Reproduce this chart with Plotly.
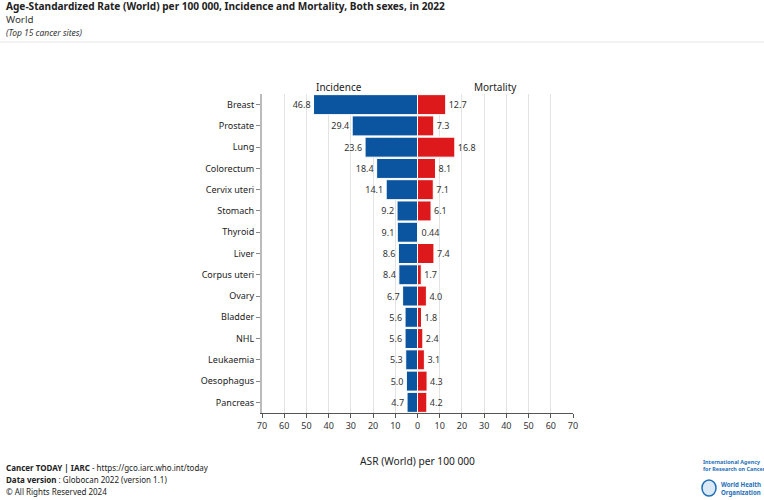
import plotly.graph_objects as go

sites = ["Breast", "Prostate", "Lung", "Colorectum", "Cervix uteri", "Stomach", "Thyroid",
         "Liver", "Corpus uteri", "Ovary", "Bladder", "NHL", "Leukaemia", "Oesophagus", "Pancreas"]
incidence = [46.8, 29.4, 23.6, 18.4, 14.1, 9.2, 9.1, 8.6, 8.4, 6.7, 5.6, 5.6, 5.3, 5.0, 4.7]
mortality = [12.7, 7.3, 16.8, 8.1, 7.1, 6.1, 0.44, 7.4, 1.7, 4.0, 1.8, 2.4, 3.1, 4.3, 4.2]
inc_labels = ["46.8", "29.4", "23.6", "18.4", "14.1", "9.2", "9.1", "8.6", "8.4", "6.7", "5.6", "5.6", "5.3", "5.0", "4.7"]
mort_labels = ["12.7", "7.3", "16.8", "8.1", "7.1", "6.1", "0.44", "7.4", "1.7", "4.0", "1.8", "2.4", "3.1", "4.3", "4.2"]
tick_vals = [-70, -60, -50, -40, -30, -20, -10, 0, 10, 20, 30, 40, 50, 60, 70]
tick_text = ["70", "60", "50", "40", "30", "20", "10", "0", "10", "20", "30", "40", "50", "60", "70"]

BLUE = "#0b54a0"
RED = "#de191b"
FONT = "Noto Sans"

fig = go.Figure()
fig.add_trace(go.Bar(
    y=sites, x=[-v for v in incidence], orientation="h",
    marker=dict(color=BLUE, line=dict(color="white", width=1)),
    text=inc_labels, textposition="outside", cliponaxis=False,
    textfont=dict(size=9, color="#333", family=FONT), hoverinfo="skip", name="Incidence"))
fig.add_trace(go.Bar(
    y=sites, x=mortality, orientation="h",
    marker=dict(color=RED, line=dict(color="white", width=1)),
    text=mort_labels, textposition="outside", cliponaxis=False,
    textfont=dict(size=9, color="#333", family=FONT), hoverinfo="skip", name="Mortality"))

fig.update_layout(
    width=764, height=500, barmode="overlay", bargap=0.06,
    margin=dict(l=262, r=191, t=94, b=87),
    plot_bgcolor="white", paper_bgcolor="white", showlegend=False,
    font=dict(family=FONT, color="#222"),
    xaxis=dict(range=[-70, 70], tickvals=tick_vals, ticktext=tick_text,
               showgrid=True, gridcolor="#e3e3e3", gridwidth=1, zeroline=False,
               showline=True, linecolor="#555", linewidth=1, ticks="outside",
               ticklen=4, tickcolor="#555", tickfont=dict(size=9, color="#333"),
               title=dict(text="ASR (World) per 100 000", font=dict(size=10.2, color="#222"), standoff=27)),
    yaxis=dict(autorange="reversed", showline=True, linecolor="#bbb", linewidth=2,
               ticks="outside", ticklen=4, tickcolor="#888",
               tickfont=dict(size=9, color="#222"), showgrid=False),
)

ann = [
    dict(text="<b>Age-Standardized Rate (World) per 100 000, Incidence and Mortality, Both sexes, in 2022</b>",
         x=4, y=500-6, size=10.1, color="#222", anchor="left"),
    dict(text="World", x=4, y=500-19, size=9.8, color="#333", anchor="left"),
    dict(text="<i>(Top 15 cancer sites)</i>", x=4, y=500-32, size=8.5, color="#333", anchor="left"),
    dict(text="<b>Cancer TODAY | IARC</b> - https://gco.iarc.who.int/today", x=4, y=500-467, size=8, color="#222", anchor="left"),
    dict(text="<b>Data version</b> : Globocan 2022 (version 1.1)", x=4, y=500-479, size=8, color="#222", anchor="left"),
    dict(text="© All Rights Reserved 2024", x=4, y=500-491, size=8, color="#222", anchor="left"),
    dict(text="Incidence", x=339, y=500-87, size=10, color="#222", anchor="center"),
    dict(text="Mortality", x=495, y=500-87, size=10, color="#222", anchor="center"),
    dict(text="<b>International Agency<br>for Research on Cancer</b>", x=701, y=500-465, size=5.4, color="#1e6fb8", anchor="left"),
    dict(text="<b>World Health<br>Organization</b>", x=719, y=500-488, size=6.1, color="#1e6fb8", anchor="left"),
]
for a in ann:
    fig.add_annotation(text=a["text"], xref="paper", yref="paper",
                       x=(a["x"] - 262) / (764 - 262 - 191), y=(a["y"] - 87) / (500 - 94 - 87),
                       xanchor=a["anchor"], yanchor="middle", showarrow=False, align="left",
                       font=dict(size=a["size"], color=a["color"], family=FONT))

# separator line under header
fig.add_shape(type="line", xref="paper", yref="paper",
              x0=(0 - 262) / 311, x1=(764 - 262) / 311,
              y0=(500 - 42 - 87) / 319, y1=(500 - 42 - 87) / 319,
              line=dict(color="#e6e6e6", width=1))
# WHO emblem approximation
fig.add_shape(type="circle", xref="paper", yref="paper",
              x0=(702 - 262) / 311, x1=(716 - 262) / 311,
              y0=(500 - 496 - 87) / 319, y1=(500 - 480 - 87) / 319,
              line=dict(color="#1e6fb8", width=1.5), fillcolor="#dbe9f6")

fig.write_html("out.html")
